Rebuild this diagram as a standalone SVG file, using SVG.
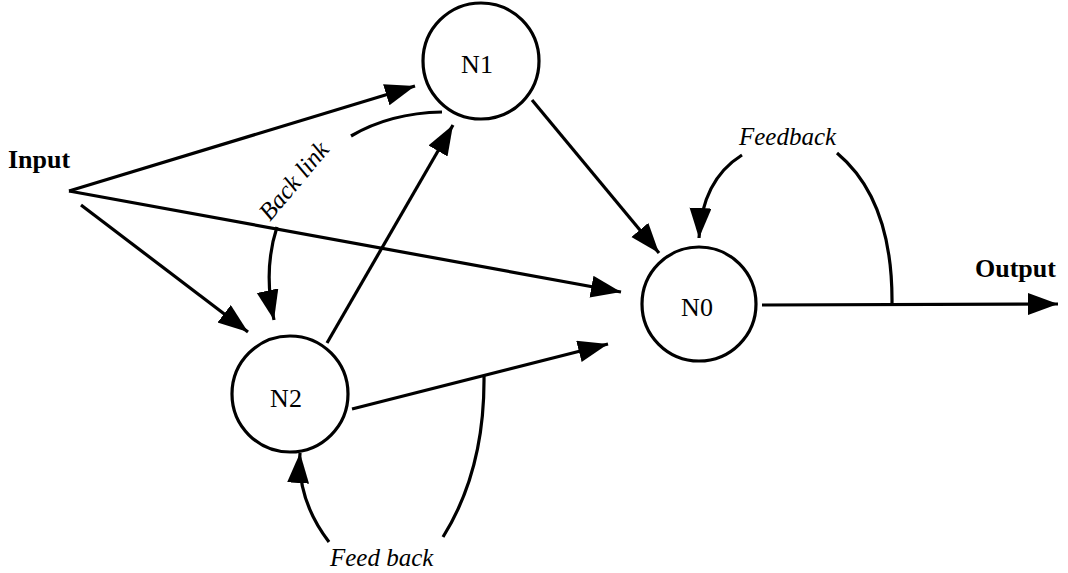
<svg xmlns="http://www.w3.org/2000/svg" width="1068" height="573" viewBox="0 0 1068 573">
  <style>
    .node { fill: none; stroke: #000; stroke-width: 3.2; }
    .edge { fill: none; stroke: #000; stroke-width: 3.2; }
    .label { font-family: "Liberation Serif", "Times New Roman", serif; font-size: 26px; fill: #000; }
    .io { font-family: "Liberation Serif", "Times New Roman", serif; font-size: 26px; font-weight: bold; fill: #000; }
    .note { font-family: "Liberation Serif", "Times New Roman", serif; font-size: 25px; font-style: italic; fill: #000; }
  </style>
  <defs>
    <marker id="arrow" markerUnits="userSpaceOnUse" markerWidth="32" markerHeight="24" refX="30" refY="11" orient="auto">
      <path d="M0,0 L30,11 L0,22 z" fill="#000"/>
    </marker>
  </defs>

  <rect width="1068" height="573" fill="#fff"/>

  <!-- connectors -->
  <g id="connectors">
    <path class="edge" d="M69,191 L415,86" marker-end="url(#arrow)"/>
    <path class="edge" d="M69,191 L621,292" marker-end="url(#arrow)"/>
    <path class="edge" d="M81,205 L248,332" marker-end="url(#arrow)"/>
    <path class="edge" d="M327,343 L453,125" marker-end="url(#arrow)"/>
    <path class="edge" d="M532,100 L659,253" marker-end="url(#arrow)"/>
    <path class="edge" d="M352,409 L608,344" marker-end="url(#arrow)"/>
    <path class="edge" d="M762,305 L1058,304" marker-end="url(#arrow)"/>
    <!-- back link N1 -> N2 -->
    <path class="edge" d="M442,112 Q390,113 351,136"/>
    <path class="edge" d="M277,227 Q263,270 274,320" marker-end="url(#arrow)"/>
    <!-- feedback loop on N0 -->
    <path class="edge" d="M837,153 Q893,200 892,304"/>
    <path class="edge" d="M742,155 Q702,180 699,238" marker-end="url(#arrow)"/>
    <!-- feedback loop on N2 -->
    <path class="edge" d="M443,537 Q485,470 484,376"/>
    <path class="edge" d="M329,542 Q297,500 300,453" marker-end="url(#arrow)"/>
  </g>

  <g id="n1">
    <circle class="node" cx="481" cy="61" r="58"/>
    <text class="label" x="477" y="73" text-anchor="middle">N1</text>
  </g>
  <g id="n0">
    <circle class="node" cx="699" cy="304" r="57"/>
    <text class="label" x="697" y="316" text-anchor="middle">N0</text>
  </g>
  <g id="n2">
    <circle class="node" cx="290" cy="394" r="58"/>
    <text class="label" x="286" y="407" text-anchor="middle">N2</text>
  </g>

  <g id="labels">
    <text class="io" x="8" y="168">Input</text>
    <text class="io" x="975" y="277">Output</text>
    <text class="note" x="739" y="145">Feedback</text>
    <text class="note" x="330" y="566">Feed back</text>
    <text class="note" transform="translate(270,222) rotate(-50)">Back link</text>
  </g>
</svg>
